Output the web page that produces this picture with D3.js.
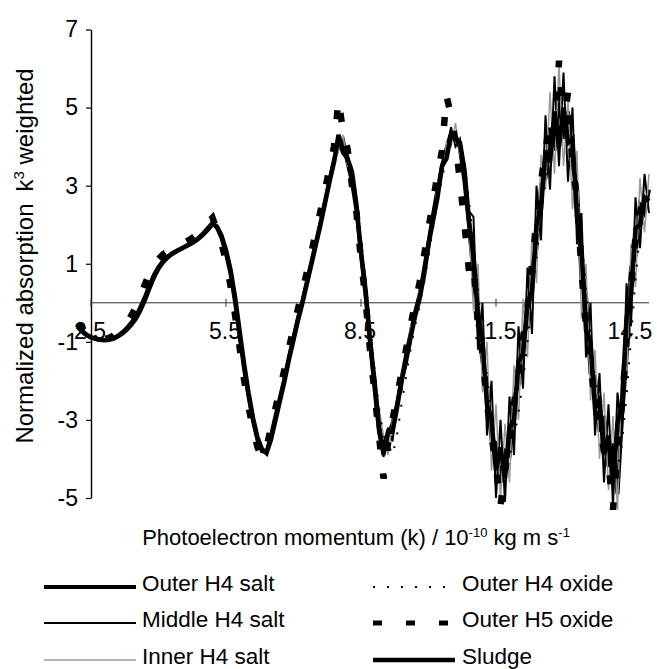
<!DOCTYPE html>
<html>
<head>
<meta charset="utf-8">
<script src="https://d3js.org/d3.v7.min.js"></script>
<style>
  body { margin: 0; background: #fff; }
  svg { display: block; font-family: Arial, "Liberation Sans", sans-serif; }
  .tick text { font-size: 23px; fill: #000; }
  .legend text { font-size: 22.5px; }
</style>
</head>
<body>
<div id="chart"></div>
<script>
// photoelectron momentum k (x values shared by every series)
var kValues = [2.2,2.3,2.4,2.5,2.6,2.7,2.8,2.9,3.0,3.1,
  3.2,3.3,3.4,3.5,3.6,3.7,3.8,3.9,4.0,4.1,
  4.2,4.3,4.4,4.5,4.6,4.7,4.8,4.9,5.0,5.1,
  5.2,5.3,5.4,5.5,5.6,5.7,5.8,5.9,6.0,6.1,
  6.2,6.3,6.4,6.5,6.6,6.7,6.8,6.9,7.0,7.1,
  7.2,7.3,7.4,7.5,7.6,7.7,7.8,7.9,8.0,8.1,
  8.2,8.3,8.4,8.5,8.6,8.7,8.8,8.9,9.0,9.1,
  9.2,9.3,9.4,9.5,9.6,9.7,9.8,9.9,10.0,10.1,
  10.2,10.3,10.4,10.5,10.6,10.7,10.8,10.9,11.0,11.1,
  11.2,11.3,11.4,11.5,11.6,11.7,11.8,11.9,12.0,12.1,
  12.2,12.3,12.4,12.5,12.6,12.7,12.8,12.9,13.0,13.1,
  13.2,13.3,13.4,13.5,13.6,13.7,13.8,13.9,14.0,14.1,
  14.2,14.3,14.4,14.5,14.6,14.7,14.8,14.9];

var outerH4Salt = [-0.62,-0.74,-0.83,-0.89,-0.93,-0.95,-0.95,-0.93,-0.90,-0.84,
  -0.75,-0.64,-0.50,-0.34,-0.10,0.16,0.45,0.72,0.92,1.07,
  1.18,1.27,1.33,1.39,1.45,1.52,1.59,1.68,1.79,1.92,
  2.05,1.92,1.66,1.26,0.74,0.02,-0.84,-1.68,-2.40,-3.03,
  -3.52,-3.80,-3.82,-3.40,-2.90,-2.42,-1.93,-1.38,-0.88,-0.38,
  0.06,0.56,1.06,1.56,2.06,2.60,3.14,3.66,4.0,4.15,
  3.6,3.1,2.35,1.25,0.2,-1.0,-2.2,-3.3,-3.9,-3.4,
  -3.1,-2.6,-1.95,-1.35,-0.8,-0.25,0.2,0.85,1.55,2.25,
  2.9,3.5,3.95,4.35,4.3,3.95,3.1,2.0,0.7,-0.5,
  -1.5,-2.1,-3.5,-3.6,-4.6,-3.8,-3.9,-2.4,-2.1,-0.8,
  -0.6,0.9,1.4,3.0,3.2,4.4,3.9,5.3,4.2,4.9,
  3.5,3.0,0.6,0.2,-1.8,-1.9,-3.3,-2.9,-4.2,-3.6,
  -4.9,-2.9,-1.4,0.9,1.2,2.5,2.3,2.9];

var middleH4Salt = [-0.58,-0.70,-0.80,-0.87,-0.92,-0.96,-0.97,-0.96,-0.93,-0.88,
  -0.80,-0.70,-0.58,-0.43,-0.22,0.04,0.34,0.62,0.85,1.02,
  1.14,1.23,1.31,1.37,1.43,1.49,1.56,1.64,1.74,1.86,
  2.00,1.97,1.76,1.40,0.92,0.22,-0.62,-1.48,-2.24,-2.90,
  -3.40,-3.72,-3.88,-3.58,-3.06,-2.56,-2.06,-1.50,-1.00,-0.50,
  -0.04,0.46,0.96,1.46,1.96,2.50,3.06,3.56,4.25,3.9,
  3.85,3.15,2.65,1.5,0.5,-0.7,-1.85,-2.85,-3.95,-3.2,
  -3.55,-2.55,-2.25,-1.35,-1.05,-0.2,0.0,0.85,1.25,2.25,
  2.65,3.6,3.7,4.5,4.0,4.2,3.1,2.35,2.2,-1.2,
  0.0,-3.4,-2.0,-5.0,-3.0,-5.1,-2.4,-3.9,-0.6,-2.2,
  0.9,-0.8,3.0,1.6,4.8,2.9,5.8,3.5,5.9,3.1,
  5.0,1.5,2.3,-1.4,0.0,-3.4,-1.8,-4.6,-2.6,-5.2,
  -2.3,-3.3,0.5,-0.6,2.7,1.4,3.3,2.3];

var innerH4Salt = [-0.57,-0.69,-0.79,-0.86,-0.91,-0.95,-0.97,-0.97,-0.95,-0.90,
  -0.83,-0.73,-0.61,-0.47,-0.27,-0.01,0.29,0.58,0.82,1.00,
  1.13,1.22,1.30,1.36,1.42,1.48,1.55,1.62,1.72,1.84,
  1.98,1.98,1.80,1.45,0.98,0.30,-0.55,-1.40,-2.18,-2.85,
  -3.38,-3.70,-3.90,-3.62,-3.12,-2.62,-2.12,-1.56,-1.06,-0.56,
  -0.10,0.40,0.90,1.40,1.90,2.44,3.00,3.50,3.9,4.3,
  3.5,3.5,2.2,1.7,0.1,-0.5,-2.3,-2.7,-3.4,-3.9,
  -3.0,-2.9,-1.8,-1.7,-0.6,-0.5,0.4,0.5,1.7,1.9,
  3.1,3.2,4.1,4.0,4.6,3.8,3.5,1.9,-0.2,1.0,
  -2.3,-1.0,-4.3,-2.6,-5.0,-3.1,-4.6,-1.6,-3.0,0.1,
  -1.4,1.8,0.5,3.8,2.9,5.4,3.3,6.1,3.5,5.2,
  2.4,3.9,-0.4,1.0,-2.5,-1.2,-4.0,-2.3,-4.8,-2.9,
  -5.3,-1.6,-2.0,1.5,0.4,3.2,1.8,3.3];

var outerH4Oxide = [-0.61,-0.73,-0.82,-0.88,-0.92,-0.94,-0.95,-0.94,-0.91,-0.85,
  -0.77,-0.67,-0.53,-0.38,-0.15,0.11,0.41,0.69,0.90,1.05,
  1.17,1.26,1.33,1.39,1.45,1.51,1.58,1.66,1.77,1.90,
  2.04,1.93,1.69,1.31,0.80,0.09,-0.76,-1.60,-2.34,-2.98,
  -3.47,-3.76,-3.84,-3.46,-2.96,-2.46,-1.97,-1.42,-0.92,-0.42,
  0.03,0.53,1.03,1.53,2.03,2.57,3.12,3.62,4.05,3.95,
  3.75,3.35,2.7,1.65,0.6,-0.55,-1.7,-2.7,-3.4,-3.6,
  -3.9,-3.4,-2.6,-1.9,-1.2,-0.6,-0.1,0.5,1.2,1.9,
  2.6,3.2,3.7,4.1,4.3,4.1,3.6,2.6,1.5,0.3,
  -0.8,-1.9,-2.9,-3.6,-4.0,-4.2,-3.9,-3.5,-2.8,-2.0,
  -1.0,0.0,1.2,2.2,3.2,3.9,4.6,4.4,4.8,4.3,
  3.9,3.0,1.7,0.3,-0.9,-2.0,-2.8,-3.3,-3.7,-4.1,
  -4.3,-3.6,-2.4,-0.9,0.6,1.8,2.4,2.8];

var outerH5Oxide = [-0.55,-0.65,-0.76,-0.84,-0.90,-0.93,-0.93,-0.90,-0.84,-0.76,
  -0.64,-0.50,-0.32,-0.10,0.18,0.48,0.75,0.98,1.12,1.24,
  1.32,1.38,1.44,1.50,1.56,1.62,1.70,1.80,1.92,2.06,
  2.18,1.86,1.52,1.06,0.44,-0.30,-1.12,-1.95,-2.65,-3.25,
  -3.70,-3.95,-3.70,-3.20,-2.70,-2.20,-1.70,-1.15,-0.65,-0.15,
  0.30,0.80,1.30,1.85,2.35,2.90,3.45,4.00,5.2,4.4,
  3.95,3.0,2.3,1.1,0.1,-1.2,-2.3,-3.4,-4.5,-3.6,
  -3.0,-2.4,-1.8,-1.2,-0.6,0.0,0.5,1.2,1.9,2.6,
  3.3,3.9,5.3,4.8,4.1,3.1,2.0,0.8,1.0,-0.6,
  -1.3,-2.6,-3.4,-4.2,-5.2,-4.3,-3.6,-2.6,-1.8,-0.9,
  -0.1,1.0,2.0,3.1,3.9,4.7,4.0,6.2,4.5,5.4,
  3.5,2.7,0.8,-0.6,-1.5,-2.6,-3.1,-3.8,-4.1,-5.3,
  -3.8,-2.6,-1.0,0.4,1.7,2.3,2.7,2.9];

var sludge = [-0.60,-0.72,-0.82,-0.88,-0.92,-0.95,-0.96,-0.95,-0.92,-0.86,
  -0.78,-0.68,-0.55,-0.40,-0.18,0.08,0.38,0.66,0.88,1.04,
  1.16,1.25,1.32,1.38,1.44,1.50,1.57,1.65,1.76,1.88,
  2.02,1.95,1.72,1.35,0.85,0.15,-0.70,-1.55,-2.30,-2.95,
  -3.45,-3.75,-3.85,-3.50,-3.00,-2.50,-2.00,-1.45,-0.95,-0.45,
  0.00,0.50,1.00,1.50,2.00,2.55,3.10,3.60,4.30,3.85,
  3.70,3.35,2.50,1.30,0.35,-0.95,-2.00,-3.20,-3.80,-3.30,
  -3.30,-2.70,-2.00,-1.50,-0.90,-0.35,0.10,0.70,1.50,2.10,
  2.70,3.50,3.70,4.30,4.20,4.10,3.40,2.10,1.2,-0.3,
  -1.0,-2.6,-3.0,-4.3,-3.7,-4.5,-3.2,-3.0,-1.5,-1.3,
  0.0,0.3,2.0,2.4,3.9,3.6,4.9,4.0,5.0,4.1,
  4.2,2.2,1.4,-0.7,-1.0,-2.7,-2.5,-3.9,-3.4,-4.6,
  -3.1,-2.6,-0.4,0.2,1.9,2.0,2.7,2.6];

var yTicks = [7, 5, 3, 1, -1, -3, -5];
var xTickLabels = [2.5, 5.5, 8.5, 11.5, 14.5];

var seriesNames = ["Outer H4 salt", "Middle H4 salt", "Inner H4 salt",
                   "Outer H4 oxide", "Outer H5 oxide", "Sludge"];
var seriesValues = [outerH4Salt, middleH4Salt, innerH4Salt, outerH4Oxide, outerH5Oxide, sludge];

// line looks, same order as the names
var looks = [
  { color: "#000", width: 4,   dash: null },
  { color: "#000", width: 2,   dash: null },
  { color: "#9a9a9a", width: 1.5, dash: null },
  { color: "#000", width: 2,   dash: "2,12" },
  { color: "#000", width: 6.5, dash: "9,24" },
  { color: "#000", width: 4.5, dash: null }
];

var width = 657, height = 669;

var svg = d3.select("#chart").append("svg")
    .attr("width", width)
    .attr("height", height);

svg.append("rect").attr("width", width).attr("height", height).attr("fill", "#fff");

var x = d3.scaleLinear().domain([2.5, 14.5]).range([91, 631]);
var y = d3.scaleLinear().domain([-5, 7]).range([498, 29.5]);

// y axis
var yAxis = svg.append("g")
    .attr("transform", "translate(" + x(2.5) + ",0)")
    .call(d3.axisLeft(y).tickValues(yTicks).tickSize(5).tickSizeOuter(0).tickPadding(8)
          .tickFormat(function(d) { return String(d); }));
yAxis.select(".domain").attr("stroke", "#000").attr("stroke-width", 1.4);
yAxis.selectAll(".tick line").attr("stroke", "#000").attr("stroke-width", 1.2);
yAxis.selectAll(".tick text").attr("font-family", null).attr("font-size", null);

// horizontal axis at zero
svg.append("line")
    .attr("x1", x(2.5)).attr("x2", x(d3.max(kValues)))
    .attr("y1", y(0)).attr("y2", y(0))
    .attr("stroke", "#333").attr("stroke-width", 1);

svg.selectAll(".xtick").data(xTickLabels).enter().append("line")
    .attr("class", "xtick")
    .attr("x1", function(d) { return x(d); }).attr("x2", function(d) { return x(d); })
    .attr("y1", y(0) - 4).attr("y2", y(0) + 4)
    .attr("stroke", "#333").attr("stroke-width", 1);

svg.selectAll(".xlabel").data(xTickLabels).enter().append("text")
    .attr("class", "xlabel")
    .attr("x", function(d) { return x(d) - 1; })
    .attr("y", y(0) + 36)
    .attr("text-anchor", "middle")
    .attr("font-size", 23)
    .text(function(d) { return d; });

// curves
var line = d3.line()
    .x(function(d, i) { return x(kValues[i]); })
    .y(function(d) { return y(d); });

svg.selectAll(".series").data(seriesValues).enter().append("path")
    .attr("class", "series")
    .attr("d", line)
    .attr("fill", "none")
    .attr("stroke", function(d, i) { return looks[i].color; })
    .attr("stroke-width", function(d, i) { return looks[i].width; })
    .attr("stroke-dasharray", function(d, i) { return looks[i].dash; })
    .attr("stroke-linejoin", "miter");

// y axis title
var yTitle = svg.append("text")
    .attr("transform", "translate(33,256) rotate(-90)")
    .attr("text-anchor", "middle")
    .attr("font-size", 24);
yTitle.append("tspan").text("Normalized absorption");
yTitle.append("tspan").attr("dx", 12).text("k");
yTitle.append("tspan").attr("font-size", 15).attr("dy", -9).text("3");
yTitle.append("tspan").attr("dy", 9).text(" weighted");

// x axis title
var xTitle = svg.append("text")
    .attr("x", 356).attr("y", 545)
    .attr("text-anchor", "middle")
    .attr("font-size", 22);
xTitle.append("tspan").text("Photoelectron momentum (k) / 10");
xTitle.append("tspan").attr("font-size", 13).attr("dy", -8).text("-10");
xTitle.append("tspan").attr("dy", 8).text(" kg m s");
xTitle.append("tspan").attr("font-size", 13).attr("dy", -8).text("-1");

// legend, two columns of three
var legendCols = [44, 373];
var legendRows = [591, 627, 664];
var legend = svg.selectAll(".legend").data(seriesNames).enter().append("g")
    .attr("class", "legend")
    .attr("transform", function(d, i) {
      return "translate(" + legendCols[Math.floor(i / 3)] + "," + legendRows[i % 3] + ")";
    });

legend.append("line")
    .attr("x1", 0).attr("x2", function(d, i) { return i < 3 ? 92 : 82; })
    .attr("y1", -4).attr("y2", -4)
    .attr("stroke", function(d, i) { return looks[i].color; })
    .attr("stroke-width", function(d, i) { return i === 4 ? 5 : looks[i].width; })
    .attr("stroke-dasharray", function(d, i) { return looks[i].dash; });

legend.append("text")
    .attr("x", function(d, i) { return i < 3 ? 98 : 89; })
    .attr("y", 0)
    .text(function(d) { return d; });
</script>
</body>
</html>
